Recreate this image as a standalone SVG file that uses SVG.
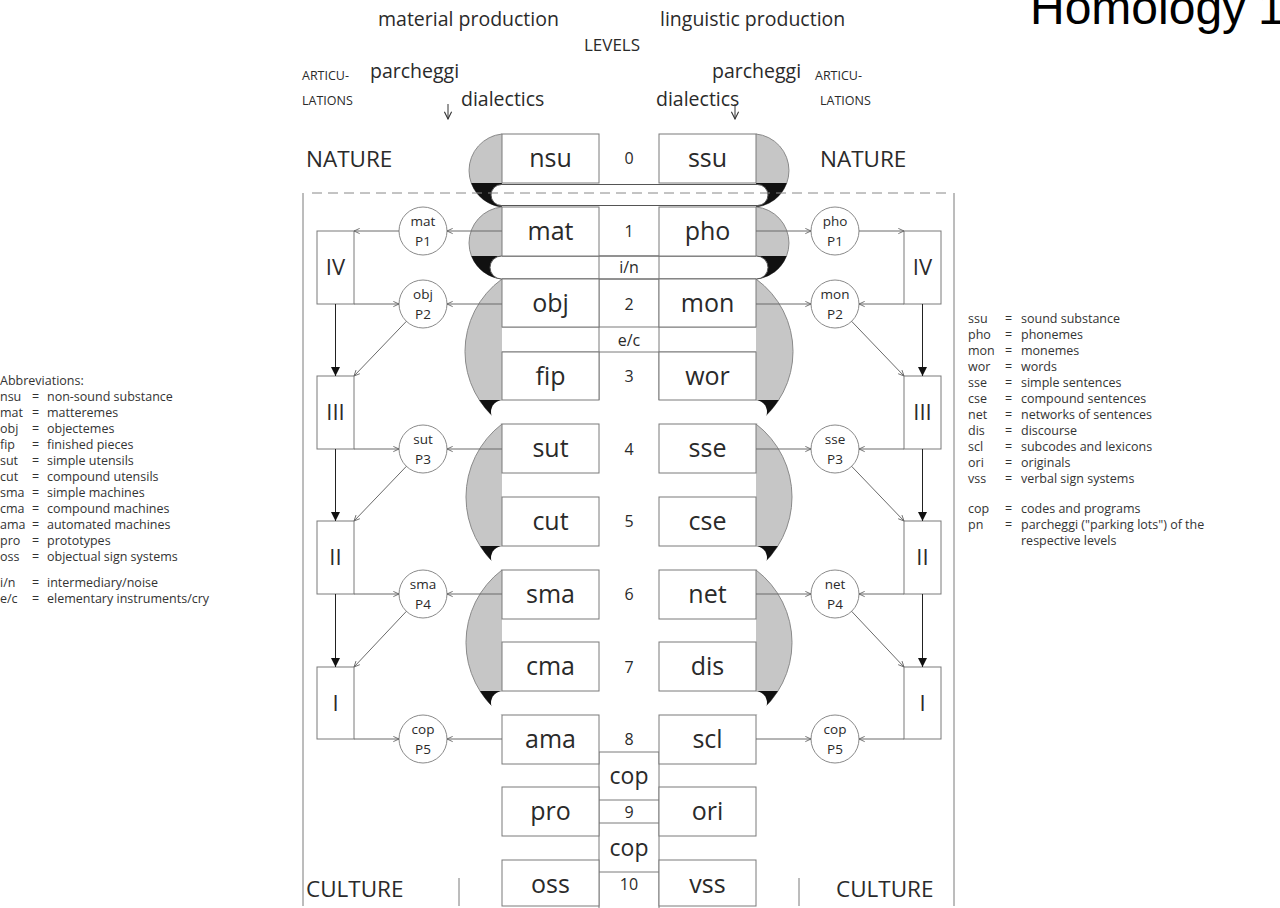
<svg xmlns="http://www.w3.org/2000/svg" width="1280" height="908" viewBox="0 0 1280 908">
<style>
.t{font-family:"Open Sans","Noto Sans",sans-serif;fill:#2a2a2a}
.c{text-anchor:middle}
.box{fill:#fff;stroke:#7a7a7a;stroke-width:1}
.gray{fill:#c6c6c6;stroke:#8a8a8a;stroke-width:1}
.blk{fill:#111}
.pill{fill:#fff;stroke:#555;stroke-width:1}
.pillw{fill:#fff}
.ln{stroke:#7a7a7a;stroke-width:1;fill:none}
.cir{fill:#fff;stroke:#8a8a8a;stroke-width:1}
.lab{font-size:25px}
.num{font-size:16px}
.ct{font-size:13.5px}
.leg{font-size:12.5px;fill:#333}
.rom{font-size:22px}
.top{font-size:19.5px}
.sm{font-size:12.5px}
.big{font-size:22.5px}
</style>
<defs>
<marker id="op" viewBox="0 0 8 8" refX="7.5" refY="4" markerWidth="7" markerHeight="7" markerUnits="userSpaceOnUse" orient="auto">
<path d="M1,1 L7.5,4 L1,7" fill="none" stroke="#666" stroke-width="1"/>
</marker>
<marker id="fa" viewBox="0 0 10 10" refX="10" refY="5" markerWidth="9" markerHeight="9" markerUnits="userSpaceOnUse" orient="auto">
<path d="M0,0 L10,5 L0,10 Z" fill="#111"/>
</marker>
<marker id="da" viewBox="0 0 10 10" refX="9" refY="5" markerWidth="9" markerHeight="9" markerUnits="userSpaceOnUse" orient="auto">
<path d="M1,1 L9,5 L1,9" fill="none" stroke="#333" stroke-width="1.2"/>
</marker>
</defs>
<rect width="1280" height="908" fill="#fff"/>

<!-- title -->
<g id="title" style="font-family:'Liberation Sans',Arial,sans-serif;font-size:48px;fill:#000">
<text x="1030" y="24">Homology</text>
<text x="1258" y="24">1</text>
</g>

<!-- header texts -->
<g id="header">
<text class="t top" x="378" y="26">material production</text>
<text class="t top" x="660" y="26">linguistic production</text>
<text class="t" x="612" y="51" style="font-size:17px" text-anchor="middle">LEVELS</text>
<text class="t sm" x="302" y="80">ARTICU-</text>
<text class="t sm" x="302" y="105">LATIONS</text>
<text class="t top" x="370" y="78">parcheggi</text>
<text class="t top" x="461" y="106">dialectics</text>
<text class="t top" x="712" y="78">parcheggi</text>
<text class="t sm" x="815" y="80">ARTICU-</text>
<text class="t top" x="656" y="106">dialectics</text>
<text class="t sm" x="820" y="105">LATIONS</text>
<text class="t big" x="306" y="167">NATURE</text>
<text class="t big" x="820" y="167">NATURE</text>
<text class="t big" x="306" y="897">CULTURE</text>
<text class="t big" x="836" y="897">CULTURE</text>
</g>

<!-- frame -->
<g id="frame" class="ln">
<line x1="303" y1="193" x2="303" y2="906"/>
<line x1="954" y1="193" x2="954" y2="906"/>
<line x1="459" y1="878" x2="459" y2="906"/>
<line x1="799" y1="878" x2="799" y2="906"/>
</g>

<!-- shapes -->
<g id="lobes">
<path class="gray" d="M502 134 A36.69 36.69 0 0 0 502 207"/>
<path class="blk" d="M502 183 L471.2 183 A36.69 36.69 0 0 0 502 207 Z"/>
<path class="gray" d="M502 207 A36.14 36.14 0 0 0 502 279"/>
<path class="blk" d="M502 256 L471.4 256 A36.14 36.14 0 0 0 502 279 Z"/>
<path class="gray" d="M502 279 A89.53 89.53 0 0 0 502 424"/>
<path class="blk" d="M502 400 L479.3 400 A89.53 89.53 0 0 0 502 424 Z"/>
<path class="gray" d="M502 424 A92.01 92.01 0 0 0 502 570"/>
<path class="blk" d="M502 546 L480.1 546 A92.01 92.01 0 0 0 502 570 Z"/>
<path class="gray" d="M502 570 A91 91 0 0 0 502 715"/>
<path class="blk" d="M502 691 L480 691 A91 91 0 0 0 502 715 Z"/>

<path class="gray" d="M756 134 A36.69 36.69 0 0 1 756 207"/>
<path class="blk" d="M756 183 L786.8 183 A36.69 36.69 0 0 1 756 207 Z"/>
<path class="gray" d="M756 207 A36.14 36.14 0 0 1 756 279"/>
<path class="blk" d="M756 256 L786.6 256 A36.14 36.14 0 0 1 756 279 Z"/>
<path class="gray" d="M756 279 A89.53 89.53 0 0 1 756 424"/>
<path class="blk" d="M756 400 L778.7 400 A89.53 89.53 0 0 1 756 424 Z"/>
<path class="gray" d="M756 424 A92.01 92.01 0 0 1 756 570"/>
<path class="blk" d="M756 546 L777.9 546 A92.01 92.01 0 0 1 756 570 Z"/>
<path class="gray" d="M756 570 A91 91 0 0 1 756 715"/>
<path class="blk" d="M756 691 L778 691 A91 91 0 0 1 756 715 Z"/>

<rect class="pill" x="491" y="184.5" width="277" height="21" rx="10.5"/>
<rect class="pill" x="490" y="256" width="278" height="23" rx="11.5"/>
<rect class="pillw" x="491" y="400" width="276" height="24" rx="12"/>
<rect class="pillw" x="491" y="546" width="276" height="24" rx="12"/>
<rect class="pillw" x="491" y="691" width="276" height="24" rx="12"/>
</g>

<!-- dashed nature/culture line -->
<line x1="312" y1="193" x2="948" y2="193" stroke="#888" stroke-width="1" stroke-dasharray="10 6"/>

<!-- middle column -->
<g id="middle" class="ln">
<line x1="502" y1="256" x2="756" y2="256"/>
<line x1="502" y1="279" x2="756" y2="279"/>
<line x1="502" y1="327" x2="756" y2="327"/>
<line x1="502" y1="352" x2="756" y2="352"/>
<line x1="599" y1="256" x2="599" y2="400"/>
<line x1="659" y1="256" x2="659" y2="400"/>
<line x1="599" y1="752" x2="659" y2="752"/>
<line x1="599" y1="752" x2="599" y2="908"/>
<line x1="659" y1="752" x2="659" y2="908"/>
<line x1="599" y1="800" x2="659" y2="800"/>
<line x1="599" y1="823" x2="659" y2="823"/>
<line x1="599" y1="872" x2="659" y2="872"/>
</g>

<!-- level boxes -->
<g id="n-nsu"><rect class="box" x="502" y="134" width="97" height="49"/><text class="t lab c" x="550.5" y="167">nsu</text></g>
<g id="n-mat"><rect class="box" x="502" y="207" width="97" height="49"/><text class="t lab c" x="550.5" y="240">mat</text></g>
<g id="n-obj"><rect class="box" x="502" y="279" width="97" height="48"/><text class="t lab c" x="550.5" y="312">obj</text></g>
<g id="n-fip"><rect class="box" x="502" y="352" width="97" height="48"/><text class="t lab c" x="550.5" y="385">fip</text></g>
<g id="n-sut"><rect class="box" x="502" y="424" width="97" height="49"/><text class="t lab c" x="550.5" y="457">sut</text></g>
<g id="n-cut"><rect class="box" x="502" y="497" width="97" height="49"/><text class="t lab c" x="550.5" y="530">cut</text></g>
<g id="n-sma"><rect class="box" x="502" y="570" width="97" height="49"/><text class="t lab c" x="550.5" y="603">sma</text></g>
<g id="n-cma"><rect class="box" x="502" y="642" width="97" height="49"/><text class="t lab c" x="550.5" y="675">cma</text></g>
<g id="n-ama"><rect class="box" x="502" y="715" width="97" height="49"/><text class="t lab c" x="550.5" y="748">ama</text></g>
<g id="n-pro"><rect class="box" x="502" y="787" width="97" height="49"/><text class="t lab c" x="550.5" y="820">pro</text></g>
<g id="n-oss"><rect class="box" x="502" y="860" width="97" height="46"/><text class="t lab c" x="550.5" y="893">oss</text></g>

<g id="n-ssu"><rect class="box" x="659" y="134" width="97" height="49"/><text class="t lab c" x="707.5" y="167">ssu</text></g>
<g id="n-pho"><rect class="box" x="659" y="207" width="97" height="49"/><text class="t lab c" x="707.5" y="240">pho</text></g>
<g id="n-mon"><rect class="box" x="659" y="279" width="97" height="48"/><text class="t lab c" x="707.5" y="312">mon</text></g>
<g id="n-wor"><rect class="box" x="659" y="352" width="97" height="48"/><text class="t lab c" x="707.5" y="385">wor</text></g>
<g id="n-sse"><rect class="box" x="659" y="424" width="97" height="49"/><text class="t lab c" x="707.5" y="457">sse</text></g>
<g id="n-cse"><rect class="box" x="659" y="497" width="97" height="49"/><text class="t lab c" x="707.5" y="530">cse</text></g>
<g id="n-net"><rect class="box" x="659" y="570" width="97" height="49"/><text class="t lab c" x="707.5" y="603">net</text></g>
<g id="n-dis"><rect class="box" x="659" y="642" width="97" height="49"/><text class="t lab c" x="707.5" y="675">dis</text></g>
<g id="n-scl"><rect class="box" x="659" y="715" width="97" height="49"/><text class="t lab c" x="707.5" y="748">scl</text></g>
<g id="n-ori"><rect class="box" x="659" y="787" width="97" height="49"/><text class="t lab c" x="707.5" y="820">ori</text></g>
<g id="n-vss"><rect class="box" x="659" y="860" width="97" height="46"/><text class="t lab c" x="707.5" y="893">vss</text></g>

<g id="levels">
<text class="t num c" x="629" y="164">0</text>
<text class="t num c" x="629" y="237">1</text>
<text class="t num c" x="629" y="273">i/n</text>
<text class="t num c" x="629" y="310">2</text>
<text class="t num c" x="629" y="346">e/c</text>
<text class="t num c" x="629" y="382">3</text>
<text class="t num c" x="629" y="455">4</text>
<text class="t num c" x="629" y="527">5</text>
<text class="t num c" x="629" y="600">6</text>
<text class="t num c" x="629" y="673">7</text>
<text class="t num c" x="629" y="745">8</text>
<text class="t c" x="629" y="784" style="font-size:23px">cop</text>
<text class="t num c" x="629" y="818">9</text>
<text class="t c" x="629" y="856" style="font-size:23px">cop</text>
<text class="t num c" x="629" y="890">10</text>
</g>

<!-- side nodes -->
<g id="p-mat"><circle class="cir" cx="423" cy="231" r="24"/><text class="t ct c" x="423" y="226">mat</text><text class="t ct c" x="423" y="246">P1</text></g>
<g id="p-obj"><circle class="cir" cx="423" cy="304" r="24"/><text class="t ct c" x="423" y="299">obj</text><text class="t ct c" x="423" y="319">P2</text></g>
<g id="p-sut"><circle class="cir" cx="423" cy="449" r="24"/><text class="t ct c" x="423" y="444">sut</text><text class="t ct c" x="423" y="464">P3</text></g>
<g id="p-sma"><circle class="cir" cx="423" cy="594" r="24"/><text class="t ct c" x="423" y="589">sma</text><text class="t ct c" x="423" y="609">P4</text></g>
<g id="p-copL"><circle class="cir" cx="423" cy="739" r="24"/><text class="t ct c" x="423" y="734">cop</text><text class="t ct c" x="423" y="754">P5</text></g>

<g id="p-pho"><circle class="cir" cx="835" cy="231" r="24"/><text class="t ct c" x="835" y="226">pho</text><text class="t ct c" x="835" y="246">P1</text></g>
<g id="p-mon"><circle class="cir" cx="835" cy="304" r="24"/><text class="t ct c" x="835" y="299">mon</text><text class="t ct c" x="835" y="319">P2</text></g>
<g id="p-sse"><circle class="cir" cx="835" cy="449" r="24"/><text class="t ct c" x="835" y="444">sse</text><text class="t ct c" x="835" y="464">P3</text></g>
<g id="p-net"><circle class="cir" cx="835" cy="594" r="24"/><text class="t ct c" x="835" y="589">net</text><text class="t ct c" x="835" y="609">P4</text></g>
<g id="p-copR"><circle class="cir" cx="835" cy="739" r="24"/><text class="t ct c" x="835" y="734">cop</text><text class="t ct c" x="835" y="754">P5</text></g>

<g id="a-IVL"><rect class="box" x="317" y="231" width="37" height="73"/><text class="t rom c" x="335.5" y="275">IV</text></g>
<g id="a-IIIL"><rect class="box" x="317" y="376" width="37" height="73"/><text class="t rom c" x="335.5" y="420">III</text></g>
<g id="a-IIL"><rect class="box" x="317" y="521" width="37" height="73"/><text class="t rom c" x="335.5" y="565">II</text></g>
<g id="a-IL"><rect class="box" x="317" y="667" width="37" height="72"/><text class="t rom c" x="335.5" y="711">I</text></g>
<g id="a-IVR"><rect class="box" x="904" y="231" width="37" height="73"/><text class="t rom c" x="922.5" y="275">IV</text></g>
<g id="a-IIIR"><rect class="box" x="904" y="376" width="37" height="73"/><text class="t rom c" x="922.5" y="420">III</text></g>
<g id="a-IIR"><rect class="box" x="904" y="521" width="37" height="73"/><text class="t rom c" x="922.5" y="565">II</text></g>
<g id="a-IR"><rect class="box" x="904" y="667" width="37" height="72"/><text class="t rom c" x="922.5" y="711">I</text></g>

<!-- connectors -->
<g id="connectors" stroke="#6a6a6a" stroke-width="1" fill="none">
<line x1="448" y1="104" x2="448" y2="119" stroke="#333" marker-end="url(#da)"/>
<line x1="735" y1="104" x2="735" y2="119" stroke="#333" marker-end="url(#da)"/>

<line x1="502" y1="231" x2="447" y2="231" marker-end="url(#op)"/>
<line x1="502" y1="304" x2="447" y2="304" marker-end="url(#op)"/>
<line x1="502" y1="449" x2="447" y2="449" marker-end="url(#op)"/>
<line x1="502" y1="594" x2="447" y2="594" marker-end="url(#op)"/>
<line x1="502" y1="739" x2="447" y2="739" marker-end="url(#op)"/>
<line x1="399" y1="231" x2="354" y2="231" marker-end="url(#op)"/>
<line x1="354" y1="304" x2="399" y2="304" marker-end="url(#op)"/>
<line x1="354" y1="449" x2="399" y2="449" marker-end="url(#op)"/>
<line x1="354" y1="594" x2="399" y2="594" marker-end="url(#op)"/>
<line x1="354" y1="739" x2="399" y2="739" marker-end="url(#op)"/>
<line x1="406.4" y1="321.3" x2="354" y2="376" marker-end="url(#op)"/>
<line x1="406.4" y1="466.3" x2="354" y2="521" marker-end="url(#op)"/>
<line x1="406.4" y1="611.3" x2="354" y2="667" marker-end="url(#op)"/>
<line x1="335.5" y1="304" x2="335.5" y2="376" stroke="#222" marker-end="url(#fa)"/>
<line x1="335.5" y1="449" x2="335.5" y2="521" stroke="#222" marker-end="url(#fa)"/>
<line x1="335.5" y1="594" x2="335.5" y2="667" stroke="#222" marker-end="url(#fa)"/>

<line x1="756" y1="231" x2="811" y2="231" marker-end="url(#op)"/>
<line x1="756" y1="304" x2="811" y2="304" marker-end="url(#op)"/>
<line x1="756" y1="449" x2="811" y2="449" marker-end="url(#op)"/>
<line x1="756" y1="594" x2="811" y2="594" marker-end="url(#op)"/>
<line x1="756" y1="739" x2="811" y2="739" marker-end="url(#op)"/>
<line x1="859" y1="231" x2="904" y2="231" marker-end="url(#op)"/>
<line x1="904" y1="304" x2="859" y2="304" marker-end="url(#op)"/>
<line x1="904" y1="449" x2="859" y2="449" marker-end="url(#op)"/>
<line x1="904" y1="594" x2="859" y2="594" marker-end="url(#op)"/>
<line x1="904" y1="739" x2="859" y2="739" marker-end="url(#op)"/>
<line x1="851.6" y1="321.3" x2="904" y2="376" marker-end="url(#op)"/>
<line x1="851.6" y1="466.3" x2="904" y2="521" marker-end="url(#op)"/>
<line x1="851.6" y1="611.3" x2="904" y2="667" marker-end="url(#op)"/>
<line x1="922.5" y1="304" x2="922.5" y2="376" stroke="#222" marker-end="url(#fa)"/>
<line x1="922.5" y1="449" x2="922.5" y2="521" stroke="#222" marker-end="url(#fa)"/>
<line x1="922.5" y1="594" x2="922.5" y2="667" stroke="#222" marker-end="url(#fa)"/>
</g>

<!-- legends -->
<g id="legend-left" class="t leg">
<text x="0" y="385">Abbreviations:</text>
<text x="0" y="401">nsu</text><text x="32" y="401">=</text><text x="47" y="401">non-sound substance</text>
<text x="0" y="417">mat</text><text x="32" y="417">=</text><text x="47" y="417">matteremes</text>
<text x="0" y="433">obj</text><text x="32" y="433">=</text><text x="47" y="433">objectemes</text>
<text x="0" y="449">fip</text><text x="32" y="449">=</text><text x="47" y="449">finished pieces</text>
<text x="0" y="465">sut</text><text x="32" y="465">=</text><text x="47" y="465">simple utensils</text>
<text x="0" y="481">cut</text><text x="32" y="481">=</text><text x="47" y="481">compound utensils</text>
<text x="0" y="497">sma</text><text x="32" y="497">=</text><text x="47" y="497">simple machines</text>
<text x="0" y="513">cma</text><text x="32" y="513">=</text><text x="47" y="513">compound machines</text>
<text x="0" y="529">ama</text><text x="32" y="529">=</text><text x="47" y="529">automated machines</text>
<text x="0" y="545">pro</text><text x="32" y="545">=</text><text x="47" y="545">prototypes</text>
<text x="0" y="561">oss</text><text x="32" y="561">=</text><text x="47" y="561">objectual sign systems</text>
<text x="0" y="587">i/n</text><text x="32" y="587">=</text><text x="47" y="587">intermediary/noise</text>
<text x="0" y="603">e/c</text><text x="32" y="603">=</text><text x="47" y="603">elementary instruments/cry</text>
</g>
<g id="legend-right" class="t leg">
<text x="968" y="323">ssu</text><text x="1005" y="323">=</text><text x="1021" y="323">sound substance</text>
<text x="968" y="339">pho</text><text x="1005" y="339">=</text><text x="1021" y="339">phonemes</text>
<text x="968" y="355">mon</text><text x="1005" y="355">=</text><text x="1021" y="355">monemes</text>
<text x="968" y="371">wor</text><text x="1005" y="371">=</text><text x="1021" y="371">words</text>
<text x="968" y="387">sse</text><text x="1005" y="387">=</text><text x="1021" y="387">simple sentences</text>
<text x="968" y="403">cse</text><text x="1005" y="403">=</text><text x="1021" y="403">compound sentences</text>
<text x="968" y="419">net</text><text x="1005" y="419">=</text><text x="1021" y="419">networks of sentences</text>
<text x="968" y="435">dis</text><text x="1005" y="435">=</text><text x="1021" y="435">discourse</text>
<text x="968" y="451">scl</text><text x="1005" y="451">=</text><text x="1021" y="451">subcodes and lexicons</text>
<text x="968" y="467">ori</text><text x="1005" y="467">=</text><text x="1021" y="467">originals</text>
<text x="968" y="483">vss</text><text x="1005" y="483">=</text><text x="1021" y="483">verbal sign systems</text>
<text x="968" y="513">cop</text><text x="1005" y="513">=</text><text x="1021" y="513">codes and programs</text>
<text x="968" y="529">pn</text><text x="1005" y="529">=</text><text x="1021" y="529">parcheggi ("parking lots") of the</text>
<text x="1021" y="545">respective levels</text>
</g>
</svg>
